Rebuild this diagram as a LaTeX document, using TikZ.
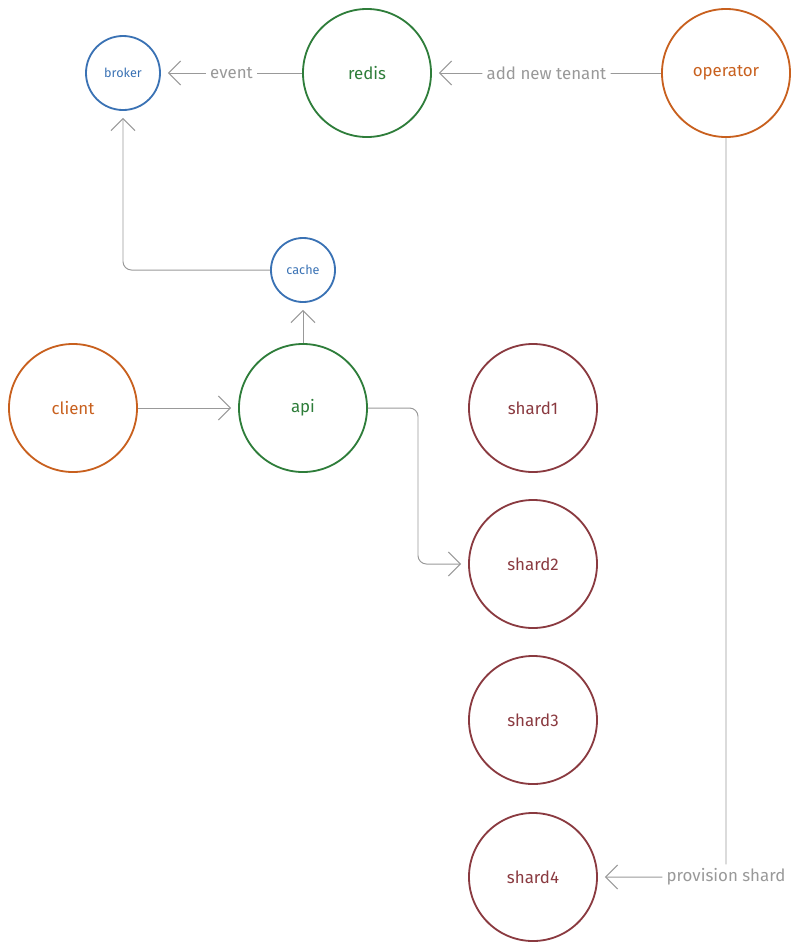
\documentclass[tikz,border=0pt]{standalone}
\usepackage{fontspec}
\setmainfont{Fira Sans}
\usetikzlibrary{arrows.meta}
\definecolor{orng}{HTML}{C8601E}
\definecolor{grn}{HTML}{2E7D3A}
\definecolor{blu}{HTML}{3A72B4}
\definecolor{shrd}{HTML}{8A3A40}
\definecolor{edge}{HTML}{999999}
\tikzset{
  svc/.style = {circle, draw, line width=1.3pt, minimum size=3.2cm, inner sep=0pt, font=\large},
  small/.style = {svc, minimum size=1.6cm, font=\small},
  link/.style = {draw=edge, line width=0.7pt, -{Straight Barb[length=3mm,width=6mm]}, shorten >=5pt, rounded corners=6pt},
  lbl/.style = {fill=white, text=edge, font=\large, inner sep=3pt}
}
\begin{document}
\begin{tikzpicture}[x=0.025cm, y=-0.025cm]
\useasboundingbox (0,0) rectangle (800,950);
\node [small, draw=blu, text=blu, minimum size=1.85cm] (broker) at (123,73) {broker};
\node [svc, draw=grn, text=grn] (redis) at (367,73) {redis};
\node [svc, draw=orng, text=orng] (operator) at (726,73) {operator};
\node [small, draw=blu, text=blu] (cache) at (303,270) {cache};
\node [svc, draw=orng, text=orng] (client) at (73,408) {client};
\node [svc, draw=grn, text=grn] (api) at (303,408) {api};
\node [svc, draw=shrd, text=shrd] (shard1) at (533,408) {shard1};
\node [svc, draw=shrd, text=shrd] (shard2) at (533,564) {shard2};
\node [svc, draw=shrd, text=shrd] (shard3) at (533,720) {shard3};
\node [svc, draw=shrd, text=shrd] (shard4) at (533,877) {shard4};
\draw [link] (redis) -- node[lbl]{event} (broker);
\draw [link] (operator) -- node[lbl]{add new tenant} (redis);
\draw [link] (cache.west) -| (broker.south);
\draw [link] (api) -- (cache);
\draw [link] (client) -- (api);
\draw [link] (api.east) -- (418,408) |- (shard2.west);
\draw [link] (operator.south) |- node[lbl, pos=0.5]{provision shard} (shard4.east);
\end{tikzpicture}
\end{document}
